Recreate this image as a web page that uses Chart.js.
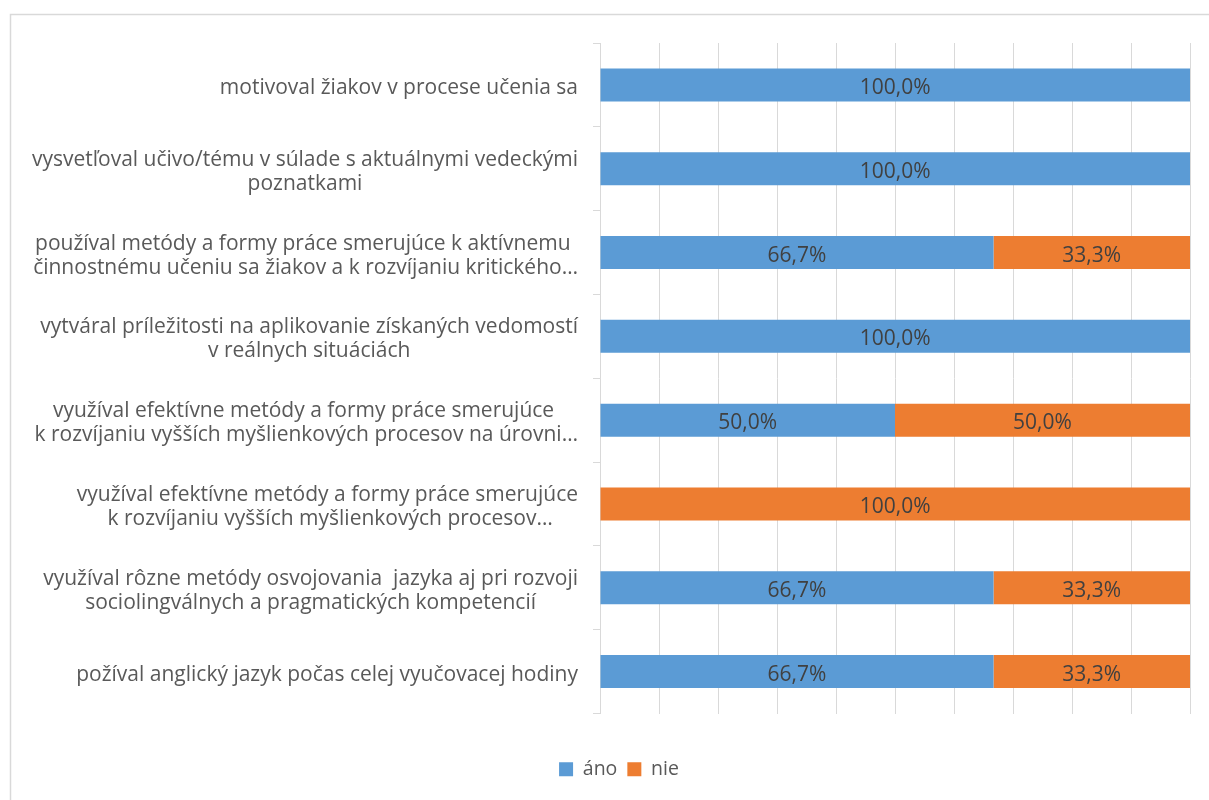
<!DOCTYPE html>
<html>
<head>
<meta charset="utf-8">
<script src="https://cdn.jsdelivr.net/npm/chart.js@4"></script>
<style>
  html, body { margin: 0; padding: 0; background: #fff; }
  #wrap { position: relative; width: 1209px; height: 800px; }
</style>
</head>
<body>
<div id="wrap"><canvas id="c" width="1209" height="800"></canvas></div>
<script>
const categories = [
  "motivoval žiakov v procese učenia sa",
  ["vysvetľoval učivo/tému v súlade s aktuálnymi vedeckými", "poznatkami"],
  ["používal metódy a formy práce smerujúce k aktívnemu", " činnostnému učeniu sa žiakov a k rozvíjaniu kritického…"],
  ["vytváral príležitosti na aplikovanie získaných vedomostí", "v reálnych situáciách"],
  ["využíval efektívne metódy a formy práce smerujúce", " k rozvíjaniu vyšších myšlienkových procesov na úrovni…"],
  ["využíval efektívne metódy a formy práce smerujúce", " k rozvíjaniu vyšších myšlienkových procesov…"],
  ["využíval rôzne metódy osvojovania  jazyka aj pri rozvoji", "sociolingválnych a pragmatických kompetencií"],
  "požíval anglický jazyk počas celej vyučovacej hodiny"
];
const seriesNames = ["áno", "nie"];
const anoValues = [100, 100, 66.7, 100, 50, 0, 66.7, 66.7];
const nieValues = [0, 0, 33.3, 0, 50, 100, 33.3, 33.3];

const FONT = "'Open Sans', Lato, sans-serif";
const LABEL_SIZE = 21;
const VALUE_SIZE = 21;
const LEGEND_SIZE = 19.5;
const LABEL_COLOR = "#595959";

const frame = {
  id: 'frame',
  beforeDraw(chart) {
    const ctx = chart.ctx;
    ctx.save();
    ctx.strokeStyle = '#d9d9d9';
    ctx.lineWidth = 1.5;
    ctx.strokeRect(10.5, 14.5, 1400, 1000);
    ctx.restore();
  }
};

const yLabels = {
  id: 'yLabels',
  afterDraw(chart) {
    const ctx = chart.ctx;
    const yScale = chart.scales.y;
    const rightEdge = yScale.right - 22;
    const lineH = 24;
    ctx.save();
    ctx.font = LABEL_SIZE + 'px ' + FONT;
    ctx.fillStyle = LABEL_COLOR;
    ctx.textAlign = 'center';
    ctx.textBaseline = 'middle';
    categories.forEach((cat, i) => {
      const lines = Array.isArray(cat) ? cat : [cat];
      const w = Math.max(...lines.map(l => ctx.measureText(l).width));
      const cx = rightEdge - w / 2;
      const yc = yScale.getPixelForValue(i) + 3;
      const y0 = yc - (lines.length - 1) * lineH / 2;
      lines.forEach((l, k) => ctx.fillText(l, cx, y0 + k * lineH));
    });
    ctx.restore();
  }
};

const dataLabels = {
  id: 'dataLabels',
  afterDatasetsDraw(chart) {
    const ctx = chart.ctx;
    ctx.save();
    ctx.font = VALUE_SIZE + 'px ' + FONT;
    ctx.fillStyle = '#404040';
    ctx.textAlign = 'center';
    ctx.textBaseline = 'middle';
    chart.data.datasets.forEach((ds, di) => {
      const meta = chart.getDatasetMeta(di);
      meta.data.forEach((el, i) => {
        const v = ds.data[i];
        if (!v) return;
        const p = el.getProps(['x', 'y', 'base'], true);
        const txt = v.toFixed(1).replace('.', ',') + '%';
        ctx.fillText(txt, (p.x + p.base) / 2, p.y + 3);
      });
    });
    ctx.restore();
  }
};

new Chart(document.getElementById('c'), {
  type: 'bar',
  data: {
    labels: categories,
    datasets: [
      { label: seriesNames[0], data: anoValues, backgroundColor: '#5B9BD5', barPercentage: 0.393, categoryPercentage: 1 },
      { label: seriesNames[1], data: nieValues, backgroundColor: '#ED7D31', barPercentage: 0.393, categoryPercentage: 1 }
    ]
  },
  options: {
    indexAxis: 'y',
    responsive: false,
    animation: false,
    devicePixelRatio: 1,
    layout: { padding: { top: 43, right: 19, left: 48, bottom: 11 } },
    scales: {
      x: {
        stacked: true,
        min: 0, max: 100,
        ticks: { display: false, stepSize: 10 },
        grid: { color: '#d9d9d9', lineWidth: 1, drawTicks: false },
        border: { display: false },
        afterFit(scale) { scale.height = 36; }
      },
      y: {
        stacked: true,
        ticks: { display: false },
        grid: { drawOnChartArea: false, drawTicks: true, tickLength: 7, color: '#d9d9d9', offset: true },
        border: { display: true, color: '#d9d9d9', width: 1 },
        afterFit(scale) { scale.width = 552; }
      }
    },
    plugins: {
      legend: {
        position: 'bottom',
        labels: {
          boxWidth: 14, boxHeight: 14, padding: 10,
          color: LABEL_COLOR,
          font: { family: FONT, size: LEGEND_SIZE }
        }
      },
      tooltip: { enabled: false }
    }
  },
  plugins: [frame, yLabels, dataLabels]
});
</script>
</body>
</html>
